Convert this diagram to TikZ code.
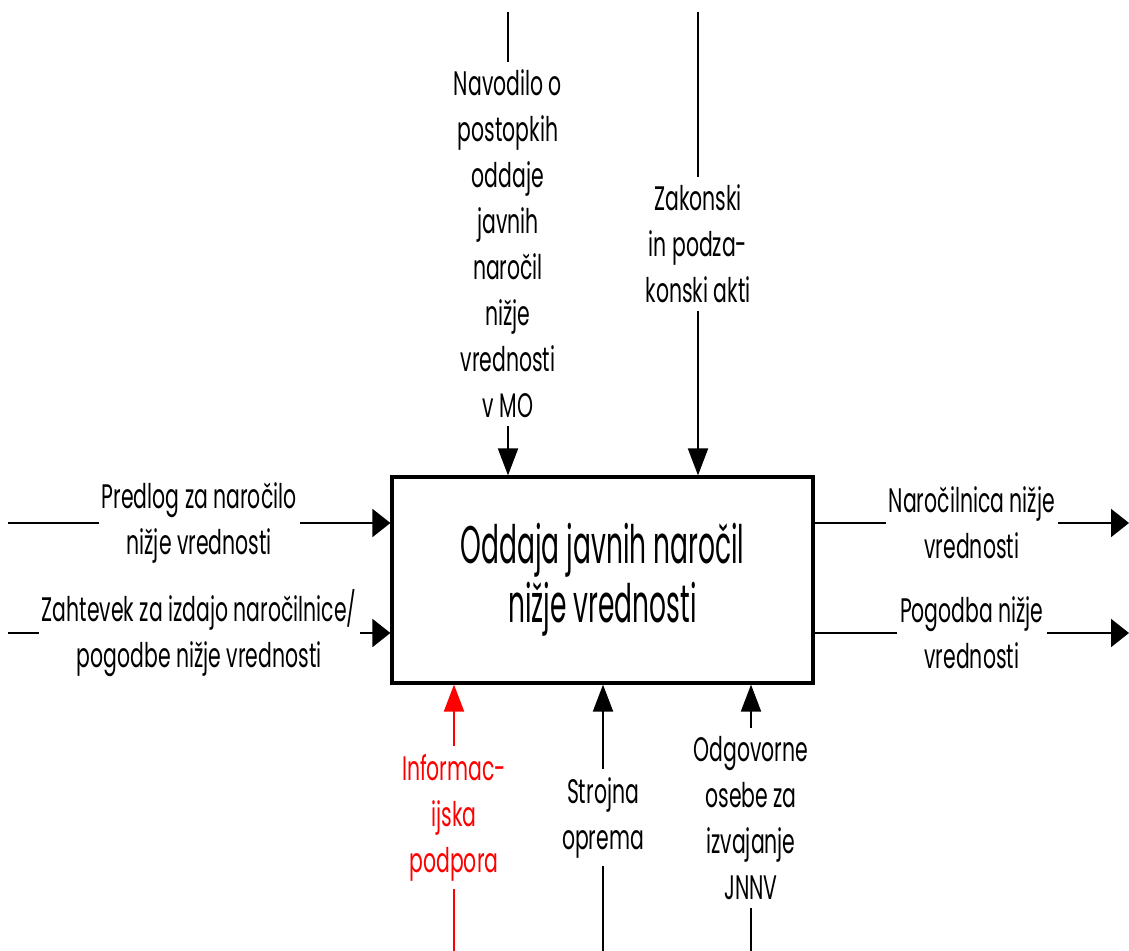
\documentclass[tikz,border=0pt]{standalone}
\usepackage{fontspec}
\usetikzlibrary{arrows.meta}
\newfontfamily\gothic[FakeStretch=0.6]{Poppins}
\newfontfamily\boxgothic[FakeStretch=0.5]{Poppins}
\newcommand\lblfont{\gothic\fontsize{17}{23}\selectfont}
\newcommand\boxfont{\boxgothic\fontsize{26.5}{29.5}\selectfont}
\definecolor{infored}{RGB}{255,0,0}
\tikzset{
  fbox/.style={draw, line width=1.6pt, minimum width=210.5pt, minimum height=103pt, align=center, font=\boxfont},
  lbl/.style={fill=white, align=center, font=\lblfont, inner xsep=1.5pt, inner ysep=4pt},
  harrow/.style={line width=1pt, -{Triangle[length=9pt,width=14pt]}},
  varrow/.style={line width=1pt, -{Triangle[length=13.5pt,width=10pt]}}
}
\begin{document}
\begin{tikzpicture}[x=0.5pt, y=-0.5pt]
        \useasboundingbox (0,0) rectangle (1129,951);
        %Function box
        \node[fbox] (func) at (602.5,580) {Oddaja javnih naročil\\nižje vrednosti};
        %Inputs
        \coordinate (in1) at (8,523);
        \coordinate (in2) at (8,633);
        \draw[harrow] (in1) -- (func.west |- in1) node[lbl, midway] (inlbl1) {Predlog za naročilo\\nižje vrednosti};
        \draw[harrow] (in2) -- (func.west |- in2) node[lbl, midway] (inlbl2) {Zahtevek za izdajo naročilnice/\\pogodbe nižje vrednosti};
        %Outputs
        \coordinate (out1) at (1129,523);
        \coordinate (out2) at (1129,633);
        \draw[harrow] (func.east |- out1) -- (out1) node[lbl, midway] (outlbl1) {Naročilnica nižje\\vrednosti};
        \draw[harrow] (func.east |- out2) -- (out2) node[lbl, midway] (outlbl2) {Pogodba nižje\\vrednosti};
        %Controls
        \coordinate (ctl1) at (508,12);
        \coordinate (ctl2) at (698,12);
        \draw[varrow] (ctl1) -- (func.north -| ctl1) node[lbl, midway] (ctllbl1) {Navodilo o\\postopkih\\oddaje\\javnih\\naročil\\nižje\\vrednosti\\v MO};
        \draw[varrow] (ctl2) -- (func.north -| ctl2) node[lbl, midway] (ctllbl2) {Zakonski\\in podza-\\konski akti};
        %Mechanisms
        \coordinate (mech1) at (454,951);
        \coordinate (mech2) at (603,951);
        \coordinate (mech3) at (751,951);
        \draw[varrow, infored] (mech1) -- (func.south -| mech1) node[lbl, midway, text=infored] (mechlbl1) {Informac-\\ijska\\podpora};
        \draw[varrow] (mech2) -- (func.south -| mech2) node[lbl, midway] (mechlbl2) {Strojna\\oprema};
        \draw[varrow] (mech3) -- (func.south -| mech3) node[lbl, midway] (mechlbl3) {Odgovorne\\osebe za\\izvajanje\\JNNV};
\end{tikzpicture}
\end{document}
